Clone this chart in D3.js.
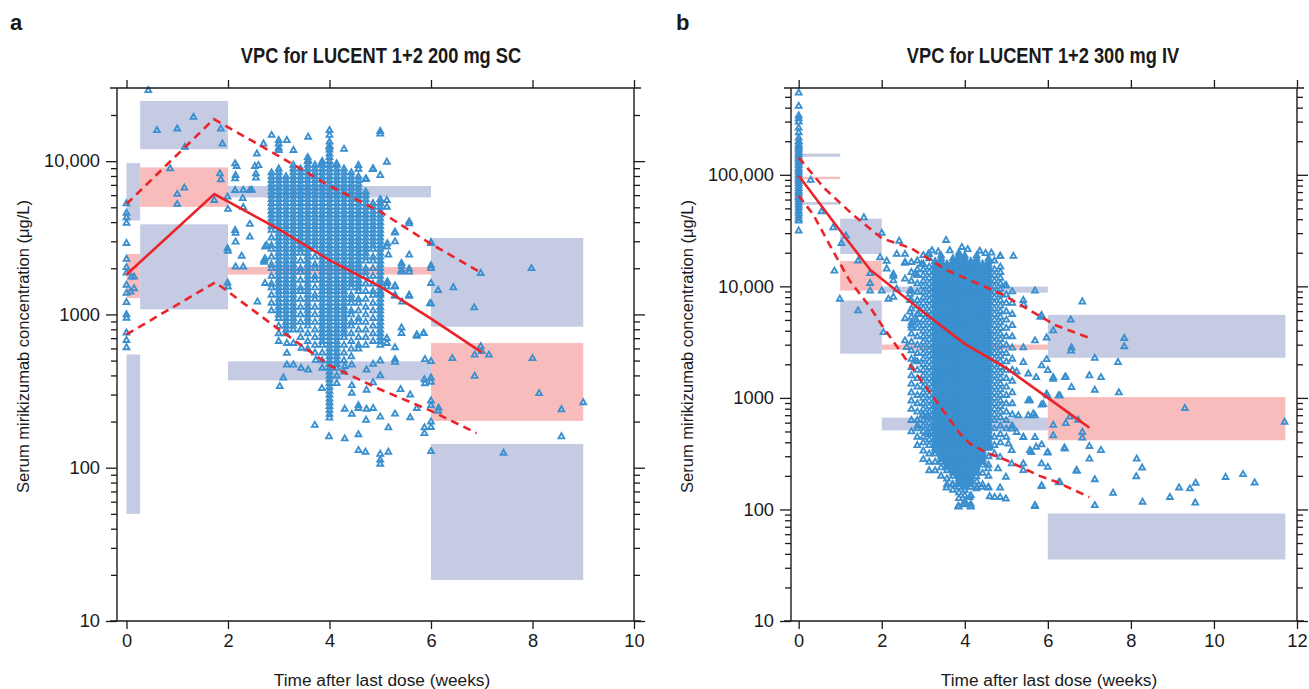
<!DOCTYPE html>
<html><head><meta charset="utf-8">
<script src="https://cdn.jsdelivr.net/npm/d3@7"></script>
<style>
body{margin:0;background:#fff;}
svg{display:block;font-family:"Liberation Sans",Arial,Helvetica,sans-serif;}
</style></head><body>
<svg id="chart" width="1309" height="689"></svg>
<script>
// ---------------- DATA ----------------
const weekTicksA = [0,2,4,6,8,10];
const weekTicksB = [0,2,4,6,8,10,12];
const concTicksA = [10,100,1000,10000];
const concLabelsA = ["10","100","1000","10,000"];
const concTicksB = [10,100,1000,10000,100000];
const concLabelsB = ["10","100","1000","10,000","100,000"];

// time bins (weeks) and simulated prediction intervals (μg/L): [lo, hi]
const binsA   = [[0,0.27],[0.27,2],[2,6],[6,9]];
const p95BandA = [[4100,9700],[11970,24700],[5800,6880],[832,3150]];
const p50BandA = [[1280,2480],[5030,9100],[1820,2040],[202,650]];
const p5BandA  = [[50,548],[1078,3870],[372,494],[18.5,143]];

const binsB   = [[0,1],[1,2],[2,6],[6,11.72]];
const p95BandB = [[145000,155000],[19500,40400],[8790,9950],[2290,5550]];
const p50BandB = [[91500,96000],[9160,16900],[2700,3010],[417,1017]];
const p5BandB  = [[54000,57000],[2490,7460],[512,665],[35.6,92]];

// observed percentiles [week, conc]
const medianA = [[0,1820],[1.73,6100],[3,3600],[4,2260],[5,1520],[6,940],[7,565]];
const upperA  = [[0,5250],[1.72,18800],[3,10800],[4,6900],[5,4680],[6,2880],[7,1860]];
const lowerA  = [[0,740],[1.75,1620],[3,800],[4,465],[5,324],[6,235],[6.9,168]];

const medianB = [[0,98000],[1,31500],[1.72,14100],[3,5900],[4,3050],[5,1850],[6,1000],[7,540]];
const upperB  = [[0,143000],[0.6,77000],[1.3,44000],[2,27000],[2.7,22000],[3.6,13800],[4.9,8500],[6.2,4460],[7,3450]];
const lowerB  = [[0,65000],[0.35,44000],[0.8,21600],[1.23,11200],[1.72,6500],[2,4500],[2.6,2170],[3.56,700],[3.88,480],[4.12,390],[4.5,327],[5,276],[5.8,200],[6.2,177],[7,129]];

// observed concentrations, scattered points [week, conc]
const sparseA = [
[0,5300],[0,4600],[0,4300],[0,3950],[0,2920],[0,2300],[0,2030],[0,1870],[0,1560],[0,1380],[0,1200],[0,1000],[0,950],[0,760],[0,680],[0,610],
[0.1,1760],[0.15,1480],[0.08,1410],[0.15,1760],
[0.43,29000],[0.6,15900],[1.0,16300],[1.32,19400],[1.86,16300],[1.89,13000],[1.15,12400],[0.86,8960],[1.14,6700],[1.0,6100],[1.0,5250],[1.73,5570],[1.84,8310],[1.86,7600],[1.99,5860],[2.0,4870],[1.99,2700],[2.0,2600],[1.99,1610],[2.0,1520],
[2.17,9280],[2.15,8100],[2.53,9280],[2.55,8300],[2.55,7800],[2.7,13000],[2.14,9650],[2.14,7700],[2.14,6470],[2.3,6480],[2.47,6480],[2.29,5730],[2.3,5000],[2.43,3890],[2.15,3400],[2.15,2980],[2.27,2410],[2.15,2050],[2.3,2050],[2.58,1210],[2.71,2260],[2.71,2200],[2.76,2830],[2.57,11200],[2.6,9400],[2.43,6470],[2.14,3550],[2.43,3210],[2.73,2770],[2.73,2320],[2.73,1600],[2.86,14800],
[3.58,14400],[4.0,14800],[4.0,12400],[3.16,13700],[3.0,13000],[3.0,12200],[3.29,11800],[3.58,10150],[3.85,9650],[4.14,9650],[4.57,9420],[4.86,8950],[5.0,15100],
[3.09,387],[3.02,340],[3.71,190],[3.99,160],[4.3,155],[4.57,165],[4.57,130],[4.71,127],[5.0,123],[5.0,113],[5.0,106],[5.16,127],[5.16,183],[4.72,205],[4.44,224],[4.3,242],[4.57,245],[4.73,242],[4.86,245],[5.0,215],[5.29,225],[5.59,213],[5.4,325],[5.59,300],[5.72,245],[5.87,183],[6.0,200],[6.0,255],[6.0,363],[5.88,355],[5.88,510],[6.0,495],[5.72,740],[5.85,755],[5.42,820],[5.42,755],[5.98,1180],[6.14,235],[5.43,1210],[5.13,700],[5.13,650],[5.29,610],[5.29,510],[5.29,490],[5.0,500],[4.86,475],[4.73,436],[5.0,400],[4.44,470],[4.3,460],[4.86,360],[4.73,322],[4.44,345],[4.44,308],[4.57,255],[3.85,330],[3.73,505],[3.58,436],[3.44,447],[3.16,470],[3.29,470],[3.16,560],[3.45,605],[3.16,650],[3.29,650],
[5.13,9900],[5.0,8100],[4.72,7700],[5.13,5570],[5.0,5300],[5.13,5030],[5.29,3460],[5.57,4040],[5.29,2990],[5.57,2450],[5.13,2770],[5.16,2450],[5.42,2160],[5.42,1900],[5.57,1900],[6.0,2920],[6.0,2090],[6.0,1600],[6.14,1440],[6.0,1180],[5.29,1340],[5.57,1340],[5.13,1520],[5.13,1600],[5.29,1520],[5.0,1370],[5.0,15700],[4.85,8860],[4.57,8900],[4.71,7630],[5.57,3930],[5.29,3410],[5.14,2910],[5.42,2070],[5.42,1950],[5.57,1990],[6.0,2960],[6.0,2000],[6.44,1500],[6.98,1860],[7.98,2000],[6.85,1110],[5.29,1540],[5.29,1320],[5.14,1640],[5.57,1320],[5.72,725],[5.86,755],
[6.42,518],[6.86,546],[6.98,620],[7.0,575],[7.14,546],[8.0,518],[6.86,397],[6.0,387],[5.87,377],[8.13,306],[9.0,267],[8.57,240],[6.15,246],[6.0,274],[6.0,184],[5.87,168],[8.57,160],[7.43,125],[6.0,128]
];

// dense daily columns [week, [conc...]]
const columnsA = [
[2.857,[8430,7960,7520,7100,6700,6320,5970,5640,5320,5020,4740,4480,4230,3990,3770,3560,3170,2820,2670,2380,2120,2000,1780,1590,1500,1340,1190,1060]],
[3.000,[13700,11800,8930,8430,7960,7520,7100,6700,6320,5970,5640,5320,5020,4740,4480,4230,3990,3770,3560,3360,3170,2990,2820,2670,2520,2380,2240,2120,2000,1890,1780,1680,1590,1500,1420,1340,1260,1190,1120,1060,1000,946,843,752,670]],
[3.143,[7960,7520,7100,6700,6320,5970,5640,5320,5020,4740,4480,4230,3990,3770,3560,3360,3170,2990,2820,2670,2520,2380,2240,2120,2000,1890,1780,1680,1590,1500,1420,1340,1260,1190,1120,1060,1000,946,893,843,796,752]],
[3.286,[9460,8930,8430,7960,7520,7100,6700,6320,5970,5640,5320,5020,4740,4480,4230,3990,3770,3560,3360,3170,2990,2820,2670,2520,2380,2240,2120,2000,1890,1780,1680,1590,1500,1420,1340,1260,1190,1120,1060,1000,946,893,843,796]],
[3.429,[8930,8430,7960,7520,7100,6700,6320,5970,5640,5320,5020,4740,4480,4230,3990,3770,3560,3360,3170,2990,2820,2670,2520,2240,2000,1890,1680,1500,1420,1260,1120,1000,893,796,710]],
[3.571,[10600,10000,9460,8930,8430,7960,7520,7100,6700,6320,5970,5640,5320,5020,4740,4480,4230,3990,3770,3560,3360,3170,2990,2820,2670,2520,2380,2240,2120,2000,1890,1780,1680,1590,1500,1420,1340,1260,1190,1120,1060,1000,946,893,843,752,670,597]],
[3.714,[9460,8930,8430,7960,7520,7100,6700,6320,5970,5640,5320,5020,4740,4480,4230,3990,3770,3560,3360,3170,2990,2820,2670,2380,2120,2000,1780,1680,1500,1340,1260,1120,1000,893,796,710,632,564]],
[3.857,[10000,9460,8930,8430,7960,7520,7100,6700,6320,5970,5640,5320,5020,4740,4480,4230,3990,3770,3560,3360,3170,2990,2820,2670,2520,2380,2240,2120,2000,1890,1780,1680,1590,1500,1420,1340,1260,1190,1120,1060,1000,946,893,843,796,752,710,670,632,564,502,448]],
[4.000,[15900,13400,12600,11900,11200,10600,10000,9460,8930,8430,7960,7520,7100,6700,6320,5970,5640,5320,5020,4740,4480,4230,3990,3770,3560,3360,3170,2990,2820,2670,2520,2380,2240,2120,2000,1890,1780,1680,1590,1500,1420,1340,1260,1190,1120,1060,1000,946,893,843,796,752,710,670,632,597,564,532,502,474,448,423,399,377,356,336,317,299,282,267,252,238,224,212]],
[4.143,[9460,8930,8430,7960,7520,7100,6700,6320,5970,5640,5320,5020,4740,4480,4230,3990,3770,3560,3360,3170,2990,2820,2670,2520,2380,2240,2120,2000,1890,1780,1680,1590,1500,1420,1340,1260,1190,1120,1060,1000,946,893,843,796,752,710,670,632,597,564,532,502,474,448,399,356]],
[4.286,[12000,8930,8430,7960,7520,7100,6700,6320,5970,5640,5320,5020,4740,4480,4230,3990,3770,3560,3360,3170,2990,2820,2670,2520,2380,2240,2120,2000,1890,1780,1680,1590,1500,1420,1340,1260,1190,1120,1060,1000,946,893,843,796,752,710,632,564,502,423]],
[4.429,[8430,7960,7520,7100,6700,6320,5970,5640,5320,5020,4740,4480,4230,3990,3770,3560,3360,3170,2990,2820,2670,2520,2380,2240,2120,2000,1890,1780,1680,1590,1500,1340,1260,1190,1060,1000,893,843,752,670,597,532]],
[4.571,[7960,7520,7100,6700,6320,5970,5640,5320,5020,4740,4480,4230,3990,3770,3560,3360,3170,2990,2820,2670,2520,2380,2240,2120,2000,1890,1780,1680,1590,1500,1420,1260,1190,1060,946,893,796,710,632,597]],
[4.714,[6320,5970,5640,5320,5020,4740,4480,4230,3990,3770,3560,3360,3170,2990,2820,2670,2520,2380,2240,2000,1890,1780,1590,1420,1260,1120,1000,893,796,710,632]],
[4.857,[5320,5020,4740,4480,4230,3990,3770,3560,3360,3170,2990,2820,2670,2380,2240,2000,1780,1590,1420,1340,1190,1060,946,843,752,670]],
[5.000,[5640,5320,5020,4740,4480,4230,3990,3770,3560,3360,3170,2990,2820,2670,2520,2380,2240,2120,2000,1890,1780,1680,1590,1500,1420,1340,1260,1190,1120,1060,1000,946,893,843,796,752,710,670,632]]
];

const sparseB = [
[0.29,89800],[0.55,47000],[0.83,33700],[1.57,41500],[2.0,30100],[1.03,24400],[1.14,28400],[1.43,17000],[0.86,13800],[1.72,13100],[1.96,18200],[2.12,14400],[2.42,25600],[2.56,19500],[2.56,16200],[2.28,12900],[2.28,11300],[2.36,9500],[0.99,7730],[1.43,6070],[1.72,9160],[1.72,10700],[2.16,7730],[2.04,3880],[2.56,3270],[2.6,2850],[2.8,2170],[2.96,15850],[3.12,19500],[3.55,26000],[2.56,11700],[2.68,8550],[2.72,4760],[2.72,4270],[2.88,5660],[2.36,19500],[2.56,16500],[2.12,16900],[2.8,12900],[2.28,12400],[2.0,9160],[2.28,8040],[2.68,9160],[2.68,7530],[2.68,5920],[2.56,5170],[2.84,5000],
[4.85,18700],[5.17,18700],[4.97,10200],[5.69,9160],[5.41,7530],[5.85,5520],[6.13,4020],[5.97,3470],[5.69,3270],[6.57,2830],[5.41,2830],[5.41,2090],[5.25,1720],[5.53,1650],[5.85,1950],[6.13,1530],[6.41,1530],[6.57,1250],[5.97,1090],[5.89,880],[6.29,1050],[5.53,950],[5.65,723],
[5.42,6870],[5.82,5330],[6.55,5020],[6.83,7290],[7.84,3430],[7.84,2900],[6.56,2650],[7.13,2280],[7.69,2090],[5.97,2220],[6.0,1770],[5.72,1530],[6.43,1550],[7.0,1590],[7.28,1530],[6.13,1480],[7.13,1180],[7.71,1120],[5.99,1050],[6.26,1050],[5.85,870],[5.57,950],[9.3,810],[11.7,610],[6.53,678],[6.73,635],[6.43,593],[6.13,572],[6.13,462],[6.83,495],[6.83,440],[5.69,445],[5.41,445],[6.4,358],[7.0,370],[7.28,340],[7.0,285],[5.85,382],[5.99,323],[5.57,340],[8.14,285],[8.27,237],[6.7,222],[6.0,240],[6.26,175],[5.85,162],[7.13,186],[8.13,198],[9.16,157],[9.42,154],[9.56,173],[10.28,195],[10.7,207],[10.98,174],[8.94,129],[9.55,115],[8.28,117],[7.57,141],[7.13,109],[5.69,109],
[2.98,697],[3.12,697],[2.86,565],[3.12,494],[3.28,565],[3.44,697],[3.52,416],[3.44,315],[3.43,267],[3.56,157],[3.7,168],[3.84,107],[3.96,111],[4.14,107],[4.12,129],[4.28,198],[4.28,154],[4.4,159],[4.56,157],[4.6,131],[4.72,129],[4.85,129],[4.99,125],[4.85,157],[4.56,233],[4.8,233],[4.99,196],[4.44,305],[4.85,295],[5.13,258],[4.6,364],[5.13,340],[5.05,389],[5.41,258],[5.41,225],[5.85,258],[6.29,176],[5.69,107],[5.85,164],[5.6,327],[5.72,364],[6.0,327],[5.13,530],[5.25,494],[5.41,445],[6.41,350],[6.69,225],[5.29,697],[5.53,697],[5.69,697],
[3.36,20500],[3.64,21000],[3.93,22500],[4.07,21500],[4.36,20800],[4.64,20000],[3.21,21000],[4.5,19800]
];

const columnsB = [
[0.000,[545000,414000,340000,320000,300000,265000,240000,215000,200000,190000,182000,175000,168000,160000,153000,146000,140000,134000,128000,122000,116000,111000,106000,101000,96000,92000,88000,84000,80000,76000,72000,69000,66000,63000,60000,57000,54000,51000,48000,45500,43000,40500,38800,31600]],
[2.714,[16500,13400,11200,9160,7530,6320,5320,4480,3770,3170,2670,2240,1890,1590,1340,1120,946,796,632,500]],
[2.857,[17000,14200,12600,10600,8930,7520,6700,5640,4740,4230,3560,2990,2520,2120,1780,1500,1260,1060,893,752,632,532,448,377]],
[3.000,[19000,15900,14200,12600,11200,10000,8930,7960,7100,6320,5640,5020,4480,3990,3560,3170,2820,2520,2240,2000,1780,1590,1420,1260,1120,1000,893,796,710,632,564,502,448,399,336,282]],
[3.143,[19500,17800,15000,13400,11900,10600,9460,8430,7520,6700,5970,5320,4740,4230,3770,3360,2990,2670,2380,2120,1890,1680,1500,1340,1190,1060,946,843,752,670,597,532,474,423,377,317,267,224]],
[3.286,[16800,15900,15000,14200,13400,12600,11900,11200,10600,10000,9460,8930,8430,7960,7520,7100,6700,6320,5970,5640,5320,5020,4740,4480,4230,3990,3770,3560,3360,3170,2990,2820,2670,2520,2380,2240,2120,2000,1890,1780,1680,1590,1500,1420,1340,1260,1190,1120,1060,1000,946,893,843,796,752,710,670,632,597,564,532,502,474,448,423,399,377,356,336,317,267,224]],
[3.429,[18900,17800,16800,15900,15000,14200,13400,12600,11900,11200,10600,10000,9460,8930,8430,7960,7520,7100,6700,6320,5970,5640,5320,5020,4740,4480,4230,3990,3770,3560,3360,3170,2990,2820,2670,2520,2380,2240,2120,2000,1890,1780,1680,1590,1500,1420,1340,1260,1190,1120,1060,1000,946,893,843,796,752,710,670,632,597,564,532,502,474,448,423,399,377,356,336,317,299,282,238,200]],
[3.571,[15900,15000,14200,13400,12600,11900,11200,10600,10000,9460,8930,8430,7960,7520,7100,6700,6320,5970,5640,5320,5020,4740,4480,4230,3990,3770,3560,3360,3170,2990,2820,2670,2520,2380,2240,2120,2000,1890,1780,1680,1590,1500,1420,1340,1260,1190,1120,1060,1000,946,893,843,796,752,710,670,632,597,564,532,502,474,448,423,399,377,356,336,317,299,282,267,252,238,224,189,168]],
[3.714,[17800,16800,15900,15000,14200,13400,12600,11900,11200,10600,10000,9460,8930,8430,7960,7520,7100,6700,6320,5970,5640,5320,5020,4740,4480,4230,3990,3770,3560,3360,3170,2990,2820,2670,2520,2380,2240,2120,2000,1890,1780,1680,1590,1500,1420,1340,1260,1190,1120,1060,1000,946,893,843,796,752,710,670,632,597,564,532,502,474,448,423,399,377,356,336,317,299,282,267,252,238,224,212,200,168,150]],
[3.857,[20000,18900,17800,16800,15900,15000,14200,13400,12600,11900,11200,10600,10000,9460,8930,8430,7960,7520,7100,6700,6320,5970,5640,5320,5020,4740,4480,4230,3990,3770,3560,3360,3170,2990,2820,2670,2520,2380,2240,2120,2000,1890,1780,1680,1590,1500,1420,1340,1260,1190,1120,1060,1000,946,893,843,796,752,710,670,632,597,564,532,502,474,448,423,399,377,356,336,317,299,282,267,252,238,224,212,200,189,178,168,159,142,126,106]],
[4.000,[18900,17800,16800,15900,15000,14200,13400,12600,11900,11200,10600,10000,9460,8930,8430,7960,7520,7100,6700,6320,5970,5640,5320,5020,4740,4480,4230,3990,3770,3560,3360,3170,2990,2820,2670,2520,2380,2240,2120,2000,1890,1780,1680,1590,1500,1420,1340,1260,1190,1120,1060,1000,946,893,843,796,752,710,670,632,597,564,532,502,474,448,423,399,377,356,336,317,299,282,267,252,238,224,212,200,189,178,168,159,150,134,119,112]],
[4.143,[16800,15900,15000,14200,13400,12600,11900,11200,10600,10000,9460,8930,8430,7960,7520,7100,6700,6320,5970,5640,5320,5020,4740,4480,4230,3990,3770,3560,3360,3170,2990,2820,2670,2520,2380,2240,2120,2000,1890,1780,1680,1590,1500,1420,1340,1260,1190,1120,1060,1000,946,893,843,796,752,710,670,632,597,564,532,502,474,448,423,399,377,356,336,317,299,282,267,252,238,224,212,200,189,178,168,159,134,112,106]],
[4.286,[18900,17800,16800,15900,15000,14200,13400,12600,11900,11200,10600,10000,9460,8930,8430,7960,7520,7100,6700,6320,5970,5640,5320,5020,4740,4480,4230,3990,3770,3560,3360,3170,2990,2820,2670,2520,2380,2240,2120,2000,1890,1780,1680,1590,1500,1420,1340,1260,1190,1120,1060,1000,946,893,843,796,752,710,670,632,597,564,532,502,474,448,423,399,377,356,336,317,299,282,267,252,238,224,212,178,159]],
[4.429,[15900,15000,14200,13400,12600,11900,11200,10600,10000,9460,8930,8430,7960,7520,7100,6700,6320,5970,5640,5320,5020,4740,4480,4230,3990,3770,3560,3360,3170,2990,2820,2670,2520,2380,2240,2120,2000,1890,1780,1680,1590,1500,1420,1340,1260,1190,1120,1060,1000,946,893,843,796,752,710,670,632,597,564,532,502,474,448,423,399,377,356,336,317,299,282,267,252,212,168]],
[4.571,[17800,16800,15900,15000,14200,13400,12600,11900,11200,10600,10000,9460,8930,8430,7960,7520,7100,6700,6320,5970,5640,5320,5020,4740,4480,4230,3990,3770,3560,3360,3170,2990,2820,2670,2520,2380,2240,2120,2000,1890,1780,1680,1590,1500,1420,1340,1260,1190,1120,1060,1000,946,893,843,796,752,710,670,632,597,564,532,502,474,448,423,399,377,356,299,252,200,159]],
[4.714,[17000,14200,12600,11200,10000,8930,7960,7100,6320,5640,5020,4480,3990,3560,3170,2820,2520,2240,2000,1780,1590,1420,1260,1120,1000,893,796,710,632,532,448,377,317]],
[4.857,[18700,15000,13400,11900,10600,9460,8430,7520,6700,5970,5320,4740,4230,3770,3360,2990,2670,2380,2120,1890,1680,1500,1340,1190,1060,946,843,752,670,564,474,399]],
[5.000,[10200,8430,7100,5970,5020,4230,3560,2990,2520,2120,1780,1500,1260,1060,893,752,632,532,448]],
[5.143,[9000,7100,5640,4480,3560,2820,2240,1780,1420,1120,893,710,564]]
];

// ---------------- DRAWING ----------------
const svg = d3.select("#chart");
const ink = "#1a1a1a";
const blueBand = "#c4cbe2", pinkBand = "#f8bcbd";
const markerColor = "#3a8fce", red = "#e9242a";
const triPath = "M0,-3.2L2.9,1.9L-2.9,1.9Z";

const panels = [
  {letter:"a", title:"VPC for LUCENT 1+2 200 mg SC", L:117, R:634, T:88, B:621,
   xDom:[-0.187,10], yDom:[10,30000], xTicks:weekTicksA, yTicks:concTicksA, yLabels:concLabelsA,
   bins:binsA, p95:p95BandA, p50:p50BandA, p5:p5BandA, med:medianA, up:upperA, lo:lowerA,
   sparse:sparseA, cols:columnsA, letterX:10, titleX:381, ylabX:29, xlabX:382},
  {letter:"b", title:"VPC for LUCENT 1+2 300 mg IV", L:791, R:1297, T:88, B:621,
   xDom:[-0.185,12], yDom:[10,600000], xTicks:weekTicksB, yTicks:concTicksB, yLabels:concLabelsB,
   bins:binsB, p95:p95BandB, p50:p50BandB, p5:p5BandB, med:medianB, up:upperB, lo:lowerB,
   sparse:sparseB, cols:columnsB, letterX:676, titleX:1043, ylabX:693, xlabX:1049}
];

panels.forEach(p => {
  const x = d3.scaleLinear().domain(p.xDom).range([p.L, p.R]);
  const y = d3.scaleLog().domain(p.yDom).range([p.B, p.T]);
  const g = svg.append("g");

  // bands
  const bandRows = [];
  p.bins.forEach((b,i) => {
    bandRows.push({x0:b[0], x1:b[1], lo:p.p95[i][0], hi:p.p95[i][1], fill:blueBand});
    bandRows.push({x0:b[0], x1:b[1], lo:p.p50[i][0], hi:p.p50[i][1], fill:pinkBand});
    bandRows.push({x0:b[0], x1:b[1], lo:p.p5[i][0], hi:p.p5[i][1], fill:blueBand});
  });
  g.append("g").selectAll("rect").data(bandRows).join("rect")
    .attr("x", d => x(d.x0)).attr("width", d => x(d.x1) - x(d.x0))
    .attr("y", d => y(d.hi)).attr("height", d => y(d.lo) - y(d.hi))
    .attr("fill", d => d.fill);

  // points
  const pts = p.sparse.slice();
  p.cols.forEach(c => c[1].forEach(v => pts.push([c[0], v])));
  g.append("g").selectAll("path").data(pts).join("path")
    .attr("d", triPath)
    .attr("transform", d => `translate(${x(d[0])},${y(d[1])})`)
    .attr("fill", "none").attr("stroke", markerColor).attr("stroke-width", 1.85)
    .attr("stroke-linejoin", "miter");

  // percentile lines
  const line = d3.line().x(d => x(d[0])).y(d => y(d[1]));
  g.append("path").datum(p.med).attr("d", line).attr("fill","none")
    .attr("stroke", red).attr("stroke-width", 2.6);
  [p.up, p.lo].forEach(ln => {
    g.append("path").datum(ln).attr("d", line).attr("fill","none")
      .attr("stroke", red).attr("stroke-width", 2.6).attr("stroke-dasharray","8,5.5");
  });

  // axes
  const minor = [];
  p.yTicks.forEach(t => { for (let m=2; m<=9; m++) { const v=t*m; if (v < p.yDom[1]) minor.push(v); } });
  const styleAxis = sel => {
    sel.select(".domain").remove();
    sel.selectAll(".tick line").attr("stroke", ink).attr("stroke-width", 1.3);
    sel.selectAll("text").attr("fill", ink).attr("font-size", "18.3px")
      .attr("font-family", '"Liberation Sans",Arial,sans-serif');
  };
  g.append("g").attr("transform", `translate(${p.L},0)`)
    .call(d3.axisLeft(y).tickValues(p.yTicks).tickFormat((d,i)=>p.yLabels[i]).tickSize(11).tickPadding(6)).call(styleAxis);
  g.append("g").attr("transform", `translate(${p.L},0)`)
    .call(d3.axisLeft(y).tickValues(minor).tickFormat("").tickSize(6)).call(styleAxis);
  g.append("g").attr("transform", `translate(${p.R},0)`)
    .call(d3.axisRight(y).tickValues(p.yTicks).tickFormat("").tickSize(11)).call(styleAxis);
  g.append("g").attr("transform", `translate(${p.R},0)`)
    .call(d3.axisRight(y).tickValues(minor).tickFormat("").tickSize(6)).call(styleAxis);
  g.append("g").attr("transform", `translate(0,${p.B})`)
    .call(d3.axisBottom(x).tickValues(p.xTicks).tickFormat(d3.format("d")).tickSize(8).tickPadding(5)).call(styleAxis);
  g.append("g").attr("transform", `translate(0,${p.T})`)
    .call(d3.axisTop(x).tickValues(p.xTicks).tickFormat("").tickSize(8)).call(styleAxis);

  // frame
  const fr = g.append("g").attr("stroke", ink).attr("stroke-width", 1.4);
  fr.append("line").attr("x1", p.L-7).attr("x2", p.R+7).attr("y1", p.T).attr("y2", p.T);
  fr.append("line").attr("x1", p.L-7).attr("x2", p.R+7).attr("y1", p.B).attr("y2", p.B);
  fr.append("line").attr("x1", p.L).attr("x2", p.L).attr("y1", p.T).attr("y2", p.B);
  fr.append("line").attr("x1", p.R).attr("x2", p.R).attr("y1", p.T).attr("y2", p.B);

  // texts
  svg.append("text").attr("x", p.letterX).attr("y", 30).text(p.letter)
    .attr("font-weight", "bold").attr("font-size", "22px").attr("fill", ink);
  svg.append("text").attr("transform", `translate(${p.titleX},63) scale(0.83,1)`)
    .attr("text-anchor","middle").text(p.title)
    .attr("font-weight", "bold").attr("font-size", "22px").attr("fill", ink);
  svg.append("text").attr("transform", `translate(${p.ylabX},${(p.T+p.B)/2 - 8}) rotate(-90)`)
    .attr("text-anchor","middle").text("Serum mirikizumab concentration (μg/L)")
    .attr("font-size", "16.5px").attr("fill", ink);
  svg.append("text").attr("x", p.xlabX).attr("y", 686).attr("text-anchor","middle")
    .text("Time after last dose (weeks)").attr("font-size", "17.3px").attr("fill", ink);
});
</script>
</body></html>
